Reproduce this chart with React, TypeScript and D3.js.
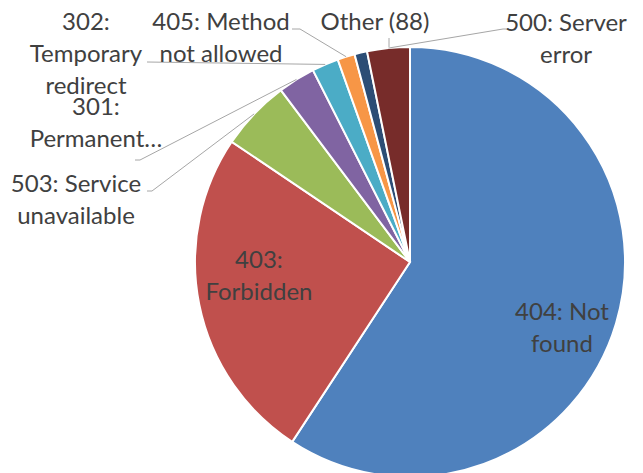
import React from "react";
import * as d3 from "d3";

const categories = [
  "404: Not found",
  "403: Forbidden",
  "503: Service unavailable",
  "301: Permanent…",
  "302: Temporary redirect",
  "405: Method not allowed",
  "Other (88)",
  "500: Server error",
];
const values = [59.2, 25.2, 5.3, 2.8, 2.0, 1.3, 0.95, 3.2];
const colors = ["#4F81BD", "#C0504D", "#9BBB59", "#8064A2", "#4BACC6", "#F79646", "#2C4D75", "#772C2A"];
const labelLines = [
  ["404: Not", "found"],
  ["403:", "Forbidden"],
  ["503: Service", "unavailable"],
  ["301:", "Permanent…"],
  ["302:", "Temporary", "redirect"],
  ["405: Method", "not allowed"],
  ["Other (88)"],
  ["500: Server", "error"],
];

const W = 643;
const H = 473;
const CX = 410;
const CY = 262;
const R = 215;
const LH = 32;
const FONT = 24;

// label layout: center x, first baseline y
const labelPos: [number, number][] = [
  [562, 320],
  [259, 268],
  [76, 192],
  [96, 115],
  [86, 30],
  [221, 30],
  [375, 30],
  [566, 31],
];

export default function App() {
  const pie = d3.pie<number>().sort(null).value((d) => d)(values);
  const arc = d3.arc<d3.PieArcDatum<number>>().innerRadius(0).outerRadius(R);
  const edge = (a: d3.PieArcDatum<number>, r = R): [number, number] => {
    const m = (a.startAngle + a.endAngle) / 2;
    return [CX + r * Math.sin(m), CY - r * Math.cos(m)];
  };
  const line = d3.line();

  // leader lines: [label-side points..., slice anchor]
  const leaders: [number, number][][] = [
    [[135, 160], [140, 160], edge(pie[3])],
    [[147, 191], [152, 191], edge(pie[2])],
    [[147, 62], edge(pie[4])],
    [[292, 29], [300, 29], edge(pie[5])],
    [[389, 38], [389, edge(pie[7])[1] - 1]],
    [[508, 29], [503, 29], edge(pie[7])],
  ];

  return (
    <svg
      width={W}
      height={H}
      style={{ position: "absolute", left: 0, top: 0, background: "#fff" }}
      fontFamily="Lato, 'Open Sans', sans-serif"
    >
      <g transform={`translate(${CX},${CY})`}>
        {pie.map((p, i) => (
          <path key={categories[i]} d={arc(p) || ""} fill={colors[i]} stroke="#fff" strokeWidth={2} />
        ))}
      </g>
      {leaders.map((pts, i) => (
        <path key={i} d={line(pts) || ""} fill="none" stroke="#a6a6a6" strokeWidth={1} />
      ))}
      {labelLines.map((lines, i) => (
        <text key={categories[i]} textAnchor="middle" fontSize={FONT} fill="#404040">
          {lines.map((t, j) => (
            <tspan key={j} x={labelPos[i][0]} y={labelPos[i][1] + j * LH}>
              {t}
            </tspan>
          ))}
        </text>
      ))}
    </svg>
  );
}
